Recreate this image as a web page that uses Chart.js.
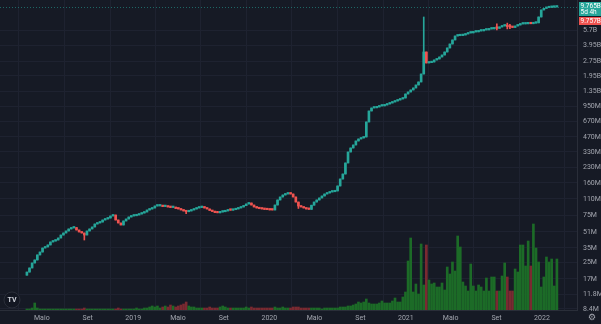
<!DOCTYPE html>
<html lang="pt">
<head>
<meta charset="UTF-8" />
<title>Gráfico semanal</title>
<style>
  html, body { margin: 0; padding: 0; background: #161a25; }
  #wrap { width: 601px; height: 324px; }
</style>
<script src="https://cdn.jsdelivr.net/npm/chart.js"></script>
</head>
<body>
<div id="wrap"><canvas id="grafico" width="601" height="324"></canvas></div>
<script>
// dados semanais (valores em milhões)
const firstWeek = "2018-03-22";
const firstOpen = 18.5;
const closes = [
  19.9, 21.9, 24.6, 26.4, 29.7, 31.8, 34.9, 35.8, 37.5, 40.2,
  41.1, 42.1, 44.1, 47.3, 49.6, 52.0, 54.5, 55.8, 56.3, 53.2,
  50.8, 49.6, 47.3, 52.0, 54.5, 57.1, 61.2, 62.7, 64.1, 67.2,
  68.8, 70.4, 73.8, 75.5, 67.2, 62.7, 59.8, 65.7, 68.8, 72.1,
  73.8, 74.2, 75.5, 77.3, 79.1, 81.0, 84.9, 86.9, 89.0, 93.2,
  93.4, 93.6, 92.0, 92.5, 91.0, 90.0, 90.5, 88.0, 87.0, 85.0,
  83.0, 81.5, 83.0, 84.9, 86.9, 89.0, 90.0, 91.1, 89.0, 86.9,
  84.0, 82.0, 80.0, 79.5, 81.0, 81.5, 83.0, 84.9, 84.5, 85.5,
  87.0, 89.0, 91.1, 94.0, 97.7, 100.0, 95.4, 91.1, 89.0, 87.5,
  86.9, 86.0, 85.5, 85.0, 84.9, 95.4, 107.3, 115.1, 120.6, 123.4,
  126.4, 123.4, 115.1, 102.3, 93.2, 91.1, 89.0, 86.9, 86.2, 95.0,
  102.3, 107.3, 112.4, 117.8, 123.4, 126.4, 129.4, 130.0, 132.5, 148.9,
  175.2, 196.9, 254.8, 329.5, 361.8, 388.0, 426.1, 446.5, 457.0, 467.8,
  664.4, 859.2, 921.5, 925, 943.3, 965.5, 968, 988.3, 1011.6, 1035.5,
  1060, 1085, 1111, 1137, 1164, 1278, 1340, 1404, 1471, 1578,
  1693, 2040, 3413, 2639, 2660, 2701, 2830, 2897, 3035, 3180,
  3411, 3747, 4113, 4518, 4960, 4990, 5010, 5077, 5197, 5320,
  5330, 5446, 5460, 5575, 5590, 5707, 5720, 5842, 5855, 5980,
  5930, 6121, 6265, 6300, 6180, 6121, 6050, 6265, 6413, 6565,
  6575, 6590, 6720, 6600, 6700, 6740, 7733, 9108, 9450, 9600,
  9680, 9720, 9757, 9765
];
// sombras visíveis (máx / mín) só onde se destacam
const wickHigh = { 152: 7733, 180: 6600, 184: 6700, 185: 6500 };
const wickLow = { 22: 42.1, 61: 78, 104: 88, 180: 5700, 184: 5850, 185: 5900 };

const volumes = [
  1, 1, 2, 7, 2, 1, 1, 1, 1, 1,
  1, 1, 1, 1, 1, 1, 1, 1, 1, 1,
  1, 1, 2, 1, 1, 1, 1, 1, 1, 1,
  1, 1, 1, 1, 1, 2, 1, 1, 1, 1,
  1, 1, 2, 1, 1, 2, 2, 3, 4, 3,
  4, 2, 3, 4, 3, 5, 4, 3, 4, 5,
  6, 8, 4, 3, 3, 2, 2, 2, 2, 2,
  3, 2, 2, 2, 3, 4, 3, 2, 2, 2,
  2, 2, 2, 2, 3, 2, 3, 2, 2, 2,
  2, 2, 2, 2, 2, 3, 2, 2, 3, 2,
  2, 2, 3, 3, 3, 2, 2, 2, 2, 2,
  2, 2, 2, 1, 2, 2, 2, 2, 2, 2,
  3, 3, 3, 4, 4, 5, 6, 8, 7, 8,
  11, 7, 6, 6, 6, 7, 9, 7, 7, 7,
  9, 12, 8, 8, 13, 18, 49, 72, 18, 26,
  16, 66, 25, 65, 30, 26, 27, 23, 23, 27,
  20, 43, 36, 48, 39, 74, 63, 28, 24, 19,
  46, 24, 19, 25, 23, 19, 32, 19, 33, 33,
  19, 19, 34, 47, 33, 19, 19, 41, 38, 65,
  65, 44, 69, 44, 86, 62, 48, 23, 33, 53,
  48, 51, 24, 51
];

const priceTicks = [5700, 3950, 2750, 1950, 1350, 950, 670, 470, 330, 230, 160, 110, 75, 51, 35, 25, 17, 11.8, 8.4];
const monthLabels = ["Maio", "Set", "2019", "Maio", "Set", "2020", "Maio", "Set", "2021", "Maio", "Set", "2022"];
const monthDates = ["2018-05-01", "2018-09-01", "2019-01-01", "2019-05-01", "2019-09-01", "2020-01-01",
  "2020-05-01", "2020-09-01", "2021-01-01", "2021-05-01", "2021-09-01", "2022-01-01"];
const lastPrice = 9765;
const prevPrice = 9757;
const countdown = "5d 4h";

const UP = "#26a69a", DOWN = "#ef5350";
const VOL_UP = "#1c6b27", VOL_DOWN = "#7a2a31";
const TXT = "#a3a6af";
const GRID = "#1e2230";

function weekIndex(d) {
  return (Date.parse(d) - Date.parse(firstWeek)) / (7 * 864e5);
}
function fmt(v) {
  if (v >= 1000) return (v / 1000).toString() + "B";
  return v.toString() + "M";
}
function noPad(s) {
  s.paddingTop = 0; s.paddingBottom = 0; s.paddingLeft = 0; s.paddingRight = 0;
}

const opens = closes.map((c, i) => (i === 0 ? firstOpen : closes[i - 1]));
const isUp = closes.map((c, i) => c >= opens[i]);
const bodies = closes.map((c, i) => ({ x: i, y: [opens[i], c] }));
const wicks = closes.map((c, i) => ({
  x: i,
  y: [
    wickLow[i] !== undefined ? wickLow[i] : Math.min(opens[i], c),
    wickHigh[i] !== undefined ? wickHigh[i] : Math.max(opens[i], c)
  ]
}));
const volData = volumes.map((v, i) => ({ x: i, y: v }));
const tickPos = monthDates.map(weekIndex);

const overlay = {
  id: "overlay",
  beforeDraw(chart) {
    const ctx = chart.ctx;
    ctx.save();
    ctx.fillStyle = "#161a25";
    ctx.fillRect(0, 0, chart.width, chart.height);
    ctx.restore();
  },
  afterDatasetsDraw(chart) {
    const ctx = chart.ctx, a = chart.chartArea;
    const py = Math.round(chart.scales.y.getPixelForValue(lastPrice)) + 0.5;
    ctx.save();
    ctx.strokeStyle = "rgba(38,166,154,0.55)";
    ctx.lineWidth = 1;
    ctx.setLineDash([1, 2]);
    ctx.beginPath();
    ctx.moveTo(a.left, py);
    ctx.lineTo(a.right, py);
    ctx.stroke();
    ctx.restore();
  },
  afterDraw(chart) {
    const ctx = chart.ctx, a = chart.chartArea;
    const py = chart.scales.y.getPixelForValue(lastPrice);
    const bx = a.right + 2, bw = chart.width - bx;
    const top = Math.max(1, py - 5);
    ctx.save();
    ctx.font = "6.5px Roboto, sans-serif";
    ctx.textAlign = "left";
    ctx.textBaseline = "middle";
    ctx.fillStyle = UP;
    ctx.fillRect(bx, top, bw, 14);
    ctx.fillStyle = "#ffffff";
    ctx.fillText(fmt(lastPrice), bx + 1.5, top + 4);
    ctx.fillText(countdown, bx + 1.5, top + 10.5);
    ctx.fillStyle = DOWN;
    ctx.fillRect(bx, top + 15, bw, 8);
    ctx.fillStyle = "#ffffff";
    ctx.fillText(fmt(prevPrice), bx + 1.5, top + 19);

    // engrenagem
    ctx.fillStyle = TXT;
    ctx.font = "9px 'DejaVu Sans'";
    ctx.textAlign = "center";
    ctx.fillText("\u2699", 592, 318);

    // logo
    ctx.beginPath();
    ctx.arc(12, 300, 8, 0, Math.PI * 2);
    ctx.fillStyle = "#131722";
    ctx.fill();
    ctx.strokeStyle = "#2a2e39";
    ctx.stroke();
    ctx.fillStyle = "#d1d4dc";
    ctx.font = "bold 7px Roboto, sans-serif";
    ctx.fillText("TV", 12, 300);
    ctx.restore();
  }
};

new Chart(document.getElementById("grafico"), {
  type: "bar",
  data: {
    datasets: [
      {
        label: "Volume",
        yAxisID: "v",
        data: volData,
        backgroundColor: isUp.map((u) => (u ? VOL_UP : VOL_DOWN)),
        barThickness: 2,
        grouped: false,
        order: 3
      },
      {
        label: "Sombra",
        yAxisID: "y",
        data: wicks,
        backgroundColor: isUp.map((u) => (u ? UP : DOWN)),
        barThickness: 1,
        grouped: false,
        order: 2
      },
      {
        label: "Corpo",
        yAxisID: "y",
        data: bodies,
        backgroundColor: isUp.map((u) => (u ? UP : DOWN)),
        barThickness: 2,
        minBarLength: 1.5,
        grouped: false,
        order: 1
      }
    ]
  },
  options: {
    responsive: false,
    animation: false,
    layout: { padding: 0 },
    plugins: { legend: { display: false }, tooltip: { enabled: false } },
    scales: {
      x: {
        type: "linear",
        min: -10.3,
        max: 210.7,
        offset: false,
        grid: { color: GRID, drawTicks: false },
        border: { color: "#2a2e39" },
        afterBuildTicks: (s) => { s.ticks = tickPos.map((v) => ({ value: v })); },
        afterFit: (s) => { s.height = 14; noPad(s); },
        ticks: {
          autoSkip: false,
          maxRotation: 0,
          padding: 4,
          color: TXT,
          font: { family: "Roboto", size: 7 },
          callback: (v, i) => monthLabels[i]
        }
      },
      y: {
        type: "logarithmic",
        position: "right",
        min: 8.2,
        max: 11500,
        grid: { color: GRID, drawTicks: false },
        border: { color: "#2a2e39" },
        afterBuildTicks: (s) => { s.ticks = priceTicks.map((v) => ({ value: v })); },
        afterFit: (s) => { s.width = 24; noPad(s); },
        ticks: {
          padding: 6,
          color: TXT,
          font: { family: "Roboto", size: 7 },
          callback: (v) => fmt(v)
        }
      },
      v: {
        type: "linear",
        display: false,
        min: 0,
        max: 310
      }
    }
  },
  plugins: [overlay]
});
</script>
</body>
</html>
